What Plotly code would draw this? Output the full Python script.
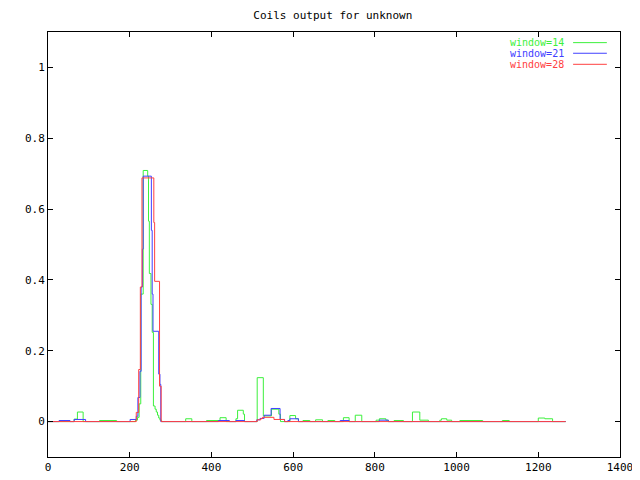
import plotly.graph_objects as go

# window=14 (green) step breakpoints
g_x = [0, 64, 72, 86, 126, 168, 214, 219, 223, 227, 233, 244, 246, 248, 252, 255, 258,
       262, 265, 268, 271, 274, 278, 337, 352, 388, 421, 436, 460, 464, 478, 481,
       512, 527, 547, 565, 569, 592, 606, 613, 624, 641, 655, 672, 685, 702, 723, 737,
       752, 768, 803, 811, 827, 833, 847, 870, 892, 910, 931, 959, 963, 976, 988,
       1008, 1064, 1112, 1129, 1200, 1216, 1235, 1267]
g_y = [0, 0.007, 0.027, 0, 0.003, 0, 0.004, 0.012, 0.05, 0.36, 0.709, 0.693, 0.566, 0.418, 0.331, 0.252, 0.044,
       0.035, 0.027, 0.018, 0.01, 0.004, 0, 0.008, 0, 0.003, 0.011, 0, 0.008, 0.032, 0.021, 0,
       0.124, 0.016, 0.035, 0.021, 0, 0.017, 0.008, 0, 0.003, 0, 0.005, 0, 0.003, 0, 0.011, 0,
       0.018, 0, 0.004, 0.008, 0.004, 0, 0.003, 0, 0.027, 0.004, 0, 0.004, 0.008, 0.004, 0,
       0.003, 0, 0.003, 0, 0.01, 0.008, 0, 0]

# window=21 (blue)
b_x = [0, 27, 54, 64, 92, 201, 216, 220, 225, 228, 231, 233, 253, 255, 257, 271, 274, 276,
       417, 444, 460, 481, 511, 519, 529, 546, 568, 579, 587, 592, 613, 715, 737, 811, 833, 1267]
b_y = [0, 0.003, 0, 0.006, 0, 0.006, 0.015, 0.068, 0.142, 0.38, 0.487, 0.693, 0.54, 0.36, 0.255, 0.134, 0.105, 0,
       0.003, 0, 0.003, 0, 0.005, 0.009, 0.018, 0.037, 0.006, 0, 0.003, 0.008, 0, 0.003, 0, 0.004, 0, 0]

# window=28 (red)
r_x = [0, 216, 222, 226, 230, 259, 261, 273, 277, 512, 521, 525, 553, 579, 1267]
r_y = [0, 0.026, 0.147, 0.38, 0.688, 0.562, 0.396, 0.1, 0, 0.005, 0.0085, 0.012, 0.006, 0, 0]

names = ["window=14", "window=21", "window=28"]
colors = ["#3cf03c", "#4040ff", "#ff4040"]
series = [(g_x, g_y), (b_x, b_y), (r_x, r_y)]

x_ticks = [0, 200, 400, 600, 800, 1000, 1200, 1400]
y_ticks = [0, 0.2, 0.4, 0.6, 0.8, 1]
y_tick_text = ["0", "0.2", "0.4", "0.6", "0.8", "1"]

FONT = "DejaVu Sans Mono"

fig = go.Figure()
for (xs, ys), n, c in zip(series, names, colors):
    fig.add_trace(go.Scatter(x=xs, y=ys, mode="lines", name=n,
                             line=dict(color=c, width=1, shape="hv"),
                             showlegend=False))

# gnuplot-style legend: text right-aligned, sample line to the right
rows_y = [0.975, 0.950, 0.924]
for n, c, yy in zip(names, colors, rows_y):
    fig.add_annotation(x=0.904, y=yy, xref="paper", yref="paper", text=n,
                       showarrow=False, xanchor="right", yanchor="middle", borderpad=0,
                       font=dict(family=FONT, size=10, color=c))
    fig.add_shape(type="line", xref="paper", yref="paper", x0=0.918, x1=0.977,
                  y0=yy, y1=yy, line=dict(color=c, width=1))

# page body has an 8px margin, so the figure is sized/offset to compensate
fig.update_layout(
    width=632, height=472,
    margin=dict(l=40, r=20, t=24, b=23, autoexpand=False),
    paper_bgcolor="white", plot_bgcolor="white",
    font=dict(family=FONT, size=11, color="black"),
    title=dict(text="Coils output for unknown", x=0.514, xanchor="center",
               y=1 - 7 / 472, yanchor="middle", font=dict(family=FONT, size=11, color="black")),
)
fig.update_xaxes(range=[0, 1400], tickvals=x_ticks, ticks="inside", ticklen=5,
                 tickcolor="black", showline=True, linecolor="black", linewidth=1,
                 mirror="ticks", showgrid=False, zeroline=False, automargin=False)
fig.update_yaxes(range=[-0.1, 1.1], tickvals=y_ticks, ticktext=y_tick_text, ticks="inside",
                 ticklen=5, tickcolor="black", showline=True, linecolor="black", linewidth=1,
                 mirror="ticks", showgrid=False, zeroline=False, automargin=False)

fig.write_html("out.html")
